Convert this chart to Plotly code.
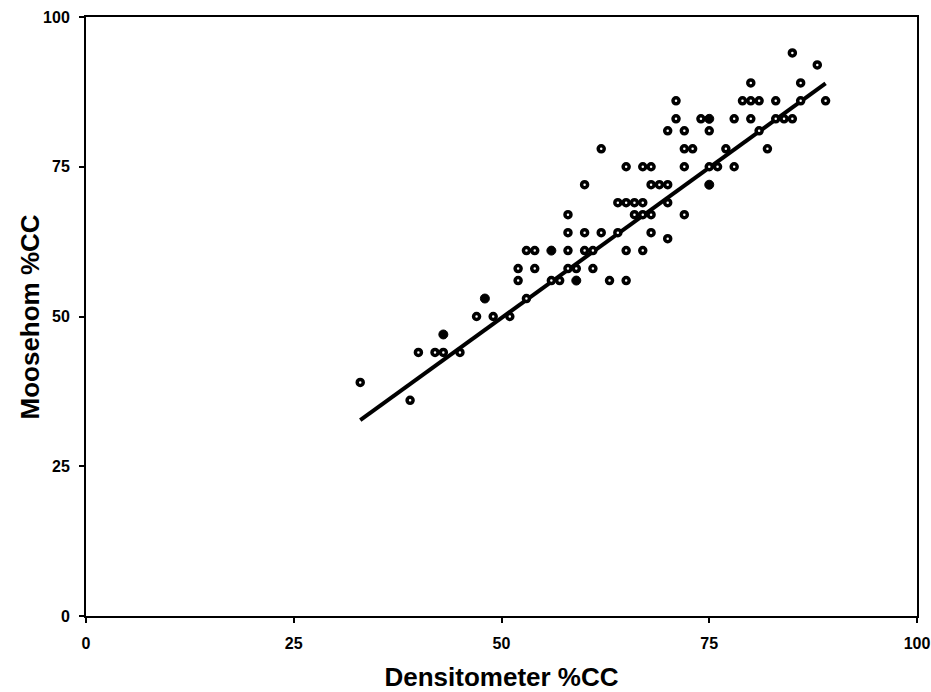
import plotly.graph_objects as go

# Open-circle observations (Densitometer %CC, Moosehorn %CC)
dens_open = [33, 39, 40, 42, 43, 45, 47, 49, 51, 53,
             52, 52, 54, 56, 57, 58, 59, 61, 63, 65,
             53, 54, 58, 60, 61, 65, 67,
             58, 60, 62, 64, 68, 70,
             58, 66, 67, 68, 72,
             64, 65, 66, 67, 70,
             60, 68, 69, 70,
             65, 67, 68, 72, 75, 76, 78,
             62, 72, 73, 77, 82,
             70, 72, 75, 81,
             71, 74, 78, 80, 83, 84, 85,
             71, 79, 80, 81, 83, 86, 89,
             80, 86, 88, 85]
moose_open = [39, 36, 44, 44, 44, 44, 50, 50, 50, 53,
              56, 58, 58, 56, 56, 58, 58, 58, 56, 56,
              61, 61, 61, 61, 61, 61, 61,
              64, 64, 64, 64, 64, 63,
              67, 67, 67, 67, 67,
              69, 69, 69, 69, 69,
              72, 72, 72, 72,
              75, 75, 75, 75, 75, 75, 75,
              78, 78, 78, 78, 78,
              81, 81, 81, 81,
              83, 83, 83, 83, 83, 83, 83,
              86, 86, 86, 86, 86, 86, 86,
              89, 89, 92, 94]

# Solid-looking observations
dens_solid = [43, 48, 59, 56, 75, 75]
moose_solid = [47, 53, 56, 61, 72, 83]

# Regression line end points
fit_x = [33, 89]
fit_y = [32.7, 88.9]

x_ticks = [0, 25, 50, 75, 100]
y_ticks = [0, 25, 50, 75, 100]

fig = go.Figure()
fig.add_trace(go.Scatter(
    x=fit_x, y=fit_y, mode="lines",
    line=dict(color="black", width=4), showlegend=False, hoverinfo="skip"))
fig.add_trace(go.Scatter(
    x=dens_open, y=moose_open, mode="markers",
    marker=dict(symbol="circle", size=6, color="white",
                line=dict(color="black", width=3.5)),
    showlegend=False))
fig.add_trace(go.Scatter(
    x=dens_solid, y=moose_solid, mode="markers",
    marker=dict(symbol="circle", size=9, color="black",
                line=dict(color="black", width=1)),
    showlegend=False))

font_bold = "Liberation Sans"
fig.update_layout(
    width=931, height=692,
    margin=dict(l=86, r=14, t=17, b=76, autoexpand=False),
    plot_bgcolor="white", paper_bgcolor="white",
    font=dict(family=font_bold, color="black"),
    xaxis=dict(
        range=[0, 100], tickvals=x_ticks, ticktext=[f"<b>{v}</b>" for v in x_ticks],
        ticks="outside", ticklen=5, tickwidth=1.5, tickcolor="black",
        ticklabelstandoff=7, automargin=False,
        showline=True, linecolor="black", linewidth=2, mirror=True,
        showgrid=False, zeroline=False,
        tickfont=dict(size=16, family=font_bold),
        title=dict(text="<b>Densitometer %CC</b>", font=dict(size=26, family=font_bold), standoff=17),
    ),
    yaxis=dict(
        range=[0, 100], tickvals=y_ticks, ticktext=[f"<b>{v}</b>" for v in y_ticks],
        ticks="outside", ticklen=5, tickwidth=1.5, tickcolor="black",
        ticklabelstandoff=6, automargin=False,
        showline=True, linecolor="black", linewidth=2, mirror=True,
        showgrid=False, zeroline=False,
        tickfont=dict(size=16, family=font_bold),
    ),
    annotations=[dict(
        text="<b>Moosehom %CC</b>", textangle=-90,
        xref="paper", yref="paper", x=-0.0674, y=0.5,
        xanchor="center", yanchor="middle", showarrow=False,
        font=dict(size=26, family=font_bold, color="black"),
    )],
)

fig.write_html("out.html")
